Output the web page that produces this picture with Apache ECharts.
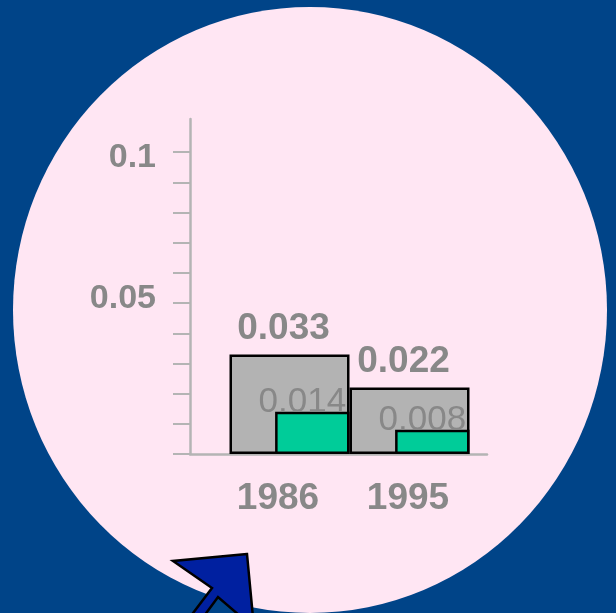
<!DOCTYPE html>
<html>
<head>
<meta charset="utf-8">
<script src="https://cdn.jsdelivr.net/npm/echarts@6/dist/echarts.min.js"></script>
<style>
  html, body { margin: 0; padding: 0; background: #004488; }
  #chart { width: 616px; height: 613px; }
</style>
</head>
<body>
<div id="chart"></div>
<script>
// Chart data
const years = ['1986', '1995'];
const totalValues = [0.033, 0.022];
const partValues = [0.014, 0.008];
const yTickValues = [0, 0.01, 0.02, 0.03, 0.04, 0.05, 0.06, 0.07, 0.08, 0.09, 0.1];
const yLabelValues = [0.05, 0.1];

const FONT = 'Liberation Sans, Arial, Helvetica, sans-serif';
const TEXT_GREY = '#888888';
const AXIS_GREY = '#b4b4b4';
const Y_MAX = 0.111;

const chart = echarts.init(document.getElementById('chart'), null, { renderer: 'canvas' });

const boldText = function (size, extra) {
  return Object.assign({ fontFamily: FONT, fontSize: size, fontWeight: 'bold', color: TEXT_GREY }, extra || {});
};

chart.setOption({
  backgroundColor: '#004488',
  animation: false,
  graphic: [
    {
      // pink disc behind the plot
      type: 'circle',
      z: -10,
      x: 310, y: 310,
      scaleY: 303 / 297,
      shape: { cx: 0, cy: 0, r: 297 },
      style: { fill: '#ffe6f3' }
    },
    {
      // pointer arrow at the bottom edge
      type: 'polygon',
      z: 100,
      shape: {
        points: [[247, 554], [173, 561], [212, 588], [150, 670], [157, 680], [218, 597], [254, 628]]
      },
      style: { fill: '#0020a0', stroke: '#000000', lineWidth: 2.5, lineJoin: 'miter' }
    }
  ],
  grid: [
    // frame for the axes
    { left: 190, right: 129, top: 119, bottom: 159, containLabel: false },
    // area holding the bars
    { left: 229.5, right: 146.5, top: 119, bottom: 159, containLabel: false }
  ],
  xAxis: [
    {
      gridIndex: 0,
      type: 'category',
      data: years,
      axisLine: { show: true, lineStyle: { color: AXIS_GREY, width: 2.5 } },
      axisTick: { show: false },
      axisLabel: { show: false },
      splitLine: { show: false }
    },
    {
      gridIndex: 1,
      type: 'category',
      data: years,
      axisLine: { show: false },
      axisTick: { show: false },
      splitLine: { show: false },
      axisLabel: boldText(37, {
        show: true,
        interval: 0,
        hideOverlap: false,
        margin: 26,
        formatter: function (v) { return v === years[0] ? '{a|' + v + '}' : '{b|' + v + '}'; },
        rich: {
          a: boldText(37, { padding: [0, 23, 0, 0] }),
          b: boldText(37, { padding: [0, 3, 0, 0] })
        }
      })
    }
  ],
  yAxis: [
    {
      gridIndex: 0,
      type: 'value',
      min: 0,
      max: Y_MAX,
      axisLine: { show: true, lineStyle: { color: AXIS_GREY, width: 2.5 } },
      axisTick: {
        show: true,
        length: 17,
        customValues: yTickValues,
        lineStyle: { color: AXIS_GREY, width: 2 }
      },
      axisLabel: boldText(34, {
        show: true,
        customValues: yLabelValues,
        margin: 34,
        formatter: function (v) {
          const s = String(+(+v).toFixed(3));
          return v > 0.075 ? '{hi|' + s + '}' : '{lo|' + s + '}';
        },
        rich: {
          hi: boldText(34, { padding: [10, 0, 0, 0] }),
          lo: boldText(34, { padding: [0, 0, 8, 0] })
        }
      }),
      splitLine: { show: false }
    },
    {
      gridIndex: 1,
      type: 'value',
      min: 0,
      max: Y_MAX,
      show: false,
      splitLine: { show: false }
    }
  ],
  series: [
    {
      name: 'total',
      type: 'bar',
      xAxisIndex: 1,
      yAxisIndex: 1,
      data: totalValues,
      barWidth: '100%',
      barGap: '-62%',
      itemStyle: { color: '#b3b3b3', borderColor: '#000000', borderWidth: 2.5 },
      label: boldText(37, {
        show: true,
        position: 'top',
        distance: 7,
        offset: [-6, 0]
      })
    },
    {
      name: 'part',
      type: 'bar',
      xAxisIndex: 1,
      yAxisIndex: 1,
      data: partValues,
      barWidth: '62%',
      itemStyle: { color: '#00cc99', borderColor: '#000000', borderWidth: 2.5 },
      label: {
        show: true,
        position: 'top',
        distance: -8,
        offset: [-10, 0],
        fontFamily: FONT,
        fontSize: 35,
        fontWeight: 'normal',
        color: TEXT_GREY
      }
    }
  ]
});
</script>
</body>
</html>
